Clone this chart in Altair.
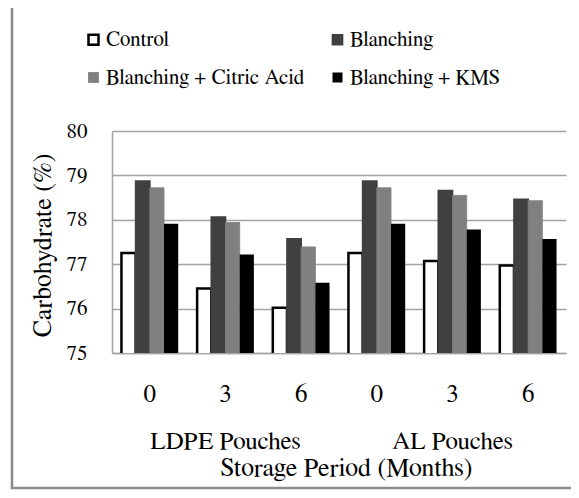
import altair as alt
import pandas as pd

pouches = ["LDPE Pouches", "AL Pouches"]
months = ["0", "3", "6"]
treatments = ["Control", "Blanching", "Blanching + Citric Acid", "Blanching + KMS"]

control = [77.25, 76.45, 76.02, 77.25, 77.07, 76.97]
blanching = [78.87, 78.06, 77.57, 78.87, 78.66, 78.46]
citric = [78.72, 77.94, 77.39, 78.72, 78.55, 78.43]
kms = [77.91, 77.22, 76.58, 77.91, 77.78, 77.57]

fills = ["#ffffff", "#404040", "#808080", "#000000"]
strokes = ["#000000", "#404040", "#808080", "#000000"]
stroke_widths = [2.5, 0, 0, 0]
y_ticks = [75, 76, 77, 78, 79, 80]

FONT = "FreeSerif"
GRID = "#a3a3a3"

groups = [f"{p}|{m}" for p in pouches for m in months]
series = [control, blanching, citric, kms]
rows = []
for t, vals in zip(treatments, series):
    for g, v in zip(groups, vals):
        rows.append({"group": g, "treatment": t, "value": v})
df = pd.DataFrame(rows)

parts = []
for p in pouches:
    for i, m in enumerate(months):
        g = f"{p}|{m}"
        lab = f"['{m}', '{p}']" if i == 1 else f"'{m}'"
        parts.append(f"datum.value == '{g}' ? {lab} : ")
label_expr = "".join(parts) + "''"

legend = alt.Legend(
    title=None, orient="none", legendX=-29, legendY=-102, columns=2,
    direction="horizontal",
    symbolType="square", symbolSize=100, symbolStrokeWidth=2.5,
    labelFont=FONT, labelFontSize=21, labelColor="#000000", labelLimit=400,
    columnPadding=22, rowPadding=16, labelOffset=2,
)

bars = alt.Chart(df).mark_bar(clip=True).encode(
    x=alt.X(
        "group:N", sort=groups,
        scale=alt.Scale(paddingInner=0.25, paddingOuter=0.125),
        axis=alt.Axis(
            title="Storage Period (Months)", labelExpr=label_expr, labelAngle=0,
            ticks=False, domainColor=GRID, domainWidth=1.5,
            labelFont=FONT, labelFontSize=25, labelColor="#000000",
            labelPadding=28, labelBaseline="top", labelLineHeight=47,
            labelOverlap=False, labelLimit=400,
            titleFont=FONT, titleFontSize=26, titleFontWeight="normal",
            titleColor="#000000", titleY=114, titleBaseline="middle", titleX=234,
        ),
    ),
    xOffset=alt.XOffset("treatment:N", sort=treatments, scale=alt.Scale(paddingInner=0)),
    y=alt.Y(
        "value:Q",
        scale=alt.Scale(domain=[75, 80], zero=False, nice=False),
        axis=alt.Axis(
            values=y_ticks, title="Carbohydrate (%)", ticks=False,
            grid=True, gridColor=GRID, gridWidth=1.4,
            domainColor=GRID, domainWidth=1.5,
            labelFont=FONT, labelFontSize=21, labelColor="#000000", labelPadding=25,
            titleFont=FONT, titleFontSize=26, titleFontWeight="normal",
            titleColor="#000000", titleX=-70, titleY=114, titleBaseline="middle",
            titleAlign="center", titleAngle=-90,
        ),
    ),
    fill=alt.Fill("treatment:N", sort=treatments,
                  scale=alt.Scale(domain=treatments, range=fills), legend=legend),
    stroke=alt.Stroke("treatment:N", sort=treatments,
                      scale=alt.Scale(domain=treatments, range=strokes), legend=legend),
    strokeWidth=alt.StrokeWidth("treatment:N",
                                scale=alt.Scale(domain=treatments, range=stroke_widths),
                                legend=None),
)

frame = alt.Chart(pd.DataFrame({"f": [0]})).mark_rect(
    fill="transparent", stroke="#8c8c8c", strokeWidth=2.5
).encode(
    x=alt.value(-100), x2=alt.value(620), y=alt.value(-126), y2=alt.value(357)
)

chart = alt.layer(frame, bars).properties(
    width=454, height=222,
    autosize=alt.AutoSizeParams(type="none"),
    padding={"left": 104, "top": 123, "right": 5, "bottom": 137},
    background="#ffffff",
).configure_view(stroke=None)

chart.save("out.html", embed_options={"renderer": "svg", "actions": False})
